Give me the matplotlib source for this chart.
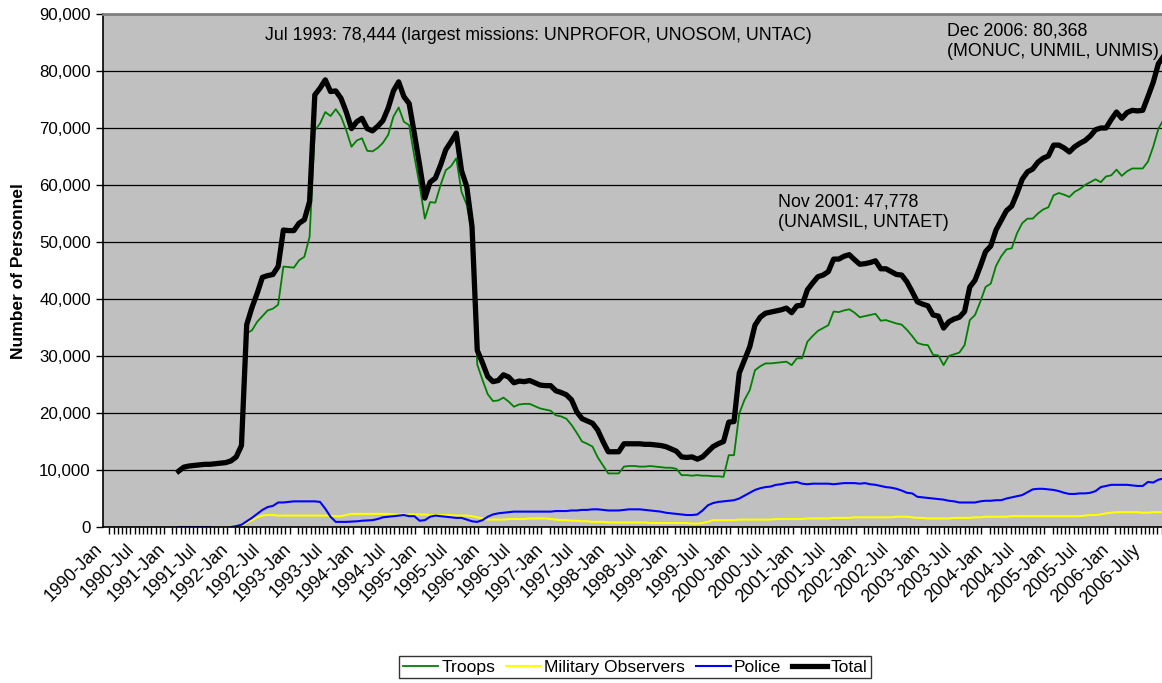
import numpy as np
import matplotlib
matplotlib.use("Agg")
import matplotlib.pyplot as plt
from matplotlib.ticker import FuncFormatter, MultipleLocator
from matplotlib.transforms import ScaledTranslation

plt.rcParams['font.family'] = ['Liberation Sans', 'DejaVu Sans']

# monthly series, 1990-Jan .. 2006-Dec; first value is 1991-Mar (index 14)
first_month = 14
nan = np.nan

total = [
    9800, 10500, 10700, 10800, 10900, 11000, 11000, 11100, 11200,
    11300, 11600, 12300, 14300, 35500, 38500, 41000, 43800, 44100, 44300,
    45700, 52100, 52000, 52000, 53300, 53900, 57100, 75800, 77000, 78444,
    76400, 76500, 75200, 72800, 69900, 71100, 71700, 69900, 69500, 70300,
    71300, 73500, 76500, 78100, 75500, 74300, 69000, 63500, 57700, 60500,
    61200, 63500, 66200, 67600, 69100, 62500, 59700, 52700, 31000, 28800,
    26400, 25500, 25700, 26700, 26300, 25300, 25600, 25500, 25700, 25300,
    24900, 24800, 24800, 23900, 23600, 23200, 22300, 20200, 19000, 18600,
    18200, 17000, 15000, 13200, 13200, 13200, 14600, 14600, 14600, 14600,
    14500, 14500, 14400, 14300, 14100, 13700, 13300, 12300, 12200, 12300,
    11900, 12300, 13200, 14100, 14600, 15000, 18400, 18500, 27000, 29300,
    31600, 35400, 36800, 37500, 37700, 37900, 38100, 38400, 37600, 38800,
    38900, 41600, 42800, 43900, 44200, 44800, 47000, 47000, 47500, 47778,
    46900, 46100, 46200, 46400, 46700, 45300, 45300, 44800, 44300, 44200,
    43000, 41300, 39500, 39100, 38800, 37200, 37000, 34900, 36000, 36500,
    36800, 37800, 42100, 43300, 45700, 48300, 49300, 52100, 53800, 55500,
    56300, 58500, 61000, 62300, 62800, 64000, 64700, 65100, 67000, 67000,
    66500, 65800, 66700, 67300, 67800, 68600, 69700, 70000, 70000, 71500,
    72800, 71700, 72700, 73100, 73000, 73100, 75500, 78000, 81300, 82600,
    83300,
]

troops = [
    9700, 10400, 10600, 10700, 10800, 10900, 10900, 11000, 11100,
    11200, 11500, 12000, 13600, 34000, 34500, 36000, 37000, 38000, 38300,
    39000, 45700, 45600, 45500, 46800, 47400, 50900, 69600, 70800, 72800,
    72100, 73300, 72000, 69600, 66700, 67800, 68200, 66000, 65900, 66500,
    67400, 68800, 72000, 73600, 71100, 70500, 65000, 60000, 54100, 57000,
    56900, 60000, 62600, 63300, 64700, 58800, 56500, 51500, 28500, 25800,
    23300, 22100, 22200, 22700, 22000, 21100, 21500, 21600, 21600, 21200,
    20800, 20600, 20400, 19600, 19400, 19000, 17900, 16500, 15000, 14600,
    14100, 12200, 10800, 9400, 9400, 9400, 10600, 10700, 10700, 10600,
    10600, 10700, 10600, 10500, 10400, 10400, 10200, 9100, 9100, 9000,
    9100, 9000, 9000, 8900, 8900, 8800, 12600, 12600, 19900, 22300,
    24000, 27500, 28200, 28700, 28700, 28800, 28900, 29000, 28400, 29600,
    29600, 32500, 33500, 34400, 34900, 35400, 37800, 37700, 38000, 38200,
    37600, 36800, 37000, 37200, 37400, 36200, 36300, 36000, 35700, 35500,
    34600, 33500, 32300, 32000, 31900, 30200, 30100, 28400, 30000, 30300,
    30600, 31900, 36300, 37200, 39500, 42100, 42700, 45800, 47500, 48700,
    48900, 51500, 53300, 54100, 54100, 55000, 55700, 56100, 58200, 58600,
    58300, 57900, 58800, 59300, 60000, 60500, 61000, 60500, 61500, 61700,
    62700, 61600, 62400, 62900, 62900, 62900, 64100, 66700, 69900, 71500,
    72000,
]

observers = [
    0, 0, 0, 0, 0, 0, 0, nan, nan, nan,
    0, 0, 300, 750, 1200, 1700, 2000, 2100, 2100, 2000,
    2000, 2000, 2000, 2000, 2000, 2000, 2000, 2000, 2000,
    2000, 1900, 1900, 2100, 2300, 2300, 2300, 2300, 2300, 2300,
    2300, 2300, 2200, 2200, 2200, 2200, 2200, 2200, 2200, 2100,
    2100, 2100, 2100, 2100, 2000, 2000, 2000, 1900, 1700, 1500,
    1300, 1300, 1300, 1300, 1400, 1400, 1400, 1400, 1500, 1500,
    1500, 1500, 1400, 1300, 1200, 1200, 1100, 1100, 1000, 1000,
    900, 900, 900, 800, 800, 800, 800, 800, 800, 800,
    800, 700, 700, 700, 700, 700, 700, 700, 700, 600,
    600, 700, 900, 1200, 1200, 1200, 1200, 1200, 1300, 1300,
    1300, 1300, 1300, 1300, 1300, 1400, 1400, 1400, 1400, 1400,
    1400, 1500, 1500, 1500, 1500, 1500, 1600, 1600, 1600, 1600,
    1700, 1700, 1700, 1700, 1700, 1700, 1700, 1700, 1800, 1800,
    1800, 1700, 1600, 1600, 1500, 1500, 1500, 1500, 1500, 1600,
    1600, 1600, 1600, 1700, 1700, 1800, 1800, 1800, 1800, 1800,
    1900, 1900, 1900, 1900, 1900, 1900, 1900, 1900, 1900, 1900,
    1900, 1900, 1900, 1900, 2000, 2100, 2100, 2200, 2400, 2500,
    2600, 2600, 2600, 2600, 2600, 2500, 2500, 2600, 2600, 2600,
    2600,
]

police = [
    0, 0, 0, 0, 0, 0, 0, nan, nan, nan,
    0, 150, 400, 1000, 1600, 2300, 3000, 3500, 3700, 4300,
    4300, 4400, 4500, 4500, 4500, 4500, 4500, 4400, 3200,
    1800, 900, 900, 900, 950, 1000, 1100, 1150, 1200, 1400,
    1700, 1800, 1900, 2000, 2100, 1900, 1900, 1100, 1200, 1800,
    2000, 1900, 1800, 1700, 1600, 1600, 1300, 1000, 900, 1200,
    1800, 2200, 2400, 2500, 2600, 2700, 2700, 2700, 2700, 2700,
    2700, 2700, 2700, 2800, 2800, 2800, 2900, 2900, 3000, 3000,
    3100, 3100, 3000, 2900, 2900, 2900, 3000, 3100, 3100, 3100,
    3000, 2900, 2800, 2700, 2500, 2400, 2300, 2200, 2100, 2100,
    2200, 2900, 3800, 4200, 4400, 4500, 4600, 4700, 5000, 5500,
    6000, 6500, 6800, 7000, 7100, 7400, 7500, 7700, 7800, 7900,
    7600, 7500, 7600, 7600, 7600, 7600, 7500, 7600, 7700, 7700,
    7700, 7600, 7700, 7500, 7400, 7200, 7000, 6900, 6700, 6400,
    6000, 5900, 5300, 5200, 5100, 5000, 4900, 4800, 4600, 4500,
    4300, 4300, 4300, 4300, 4500, 4600, 4600, 4700, 4700, 5000,
    5200, 5400, 5600, 6100, 6600, 6700, 6700, 6600, 6500, 6300,
    6000, 5800, 5800, 5900, 5900, 6000, 6300, 7000, 7200, 7400,
    7400, 7400, 7400, 7300, 7200, 7200, 7900, 7800, 8300, 8500,
    8500,
]

years = list(range(1990, 2007))
tick_labels = []
for y in years:
    tick_labels.append(f'{y}-Jan')
    tick_labels.append('2006-July' if y == 2006 else f'{y}-Jul')

n_months = 12 * len(years)
x = np.arange(first_month, n_months)

fig = plt.figure(figsize=(11.62, 6.83), dpi=100)
ax = fig.add_axes([0.0883, 0.2284, 0.9199, 0.7511])
ax.set_facecolor('#c0c0c0')

ax.plot(x, troops, color='#008000', lw=1.3, label='Troops')
ax.plot(x, observers, color='#ffff00', lw=1.5, label='Military Observers')
ax.plot(x, police, color='#0000ff', lw=1.5, label='Police')
ax.plot(x, total, color='black', lw=3.8, label='Total', solid_joinstyle='round')

ax.set_xlim(-0.5, n_months - 0.5)
ax.set_ylim(0, 90000)
ax.set_yticks(np.arange(0, 90001, 10000))
ax.yaxis.set_major_formatter(FuncFormatter(lambda v, p: f'{int(v):,}'))
ax.grid(axis='y', color='black', lw=0.9)
ax.set_axisbelow(True)

ax.set_xticks(np.arange(0, n_months, 6))
ax.set_xticklabels(tick_labels, rotation=45, ha='right', va='top',
                   rotation_mode='anchor')
ax.xaxis.set_minor_locator(MultipleLocator(0.8))
ax.tick_params(axis='x', which='major', length=0, labelsize=12.8, pad=10)
ax.tick_params(axis='x', which='minor', length=5, width=1, direction='out')
ax.tick_params(axis='y', length=5, width=1, labelsize=12.2)

shift = ScaledTranslation(-11 / 100, 0, fig.dpi_scale_trans)
for lbl in ax.get_xticklabels():
    lbl.set_transform(lbl.get_transform() + shift)

for side in ['top', 'right']:
    ax.spines[side].set_color('#808080')
    ax.spines[side].set_linewidth(2)
ax.spines['left'].set_linewidth(1.2)
ax.spines['bottom'].set_linewidth(1.2)

ax.set_ylabel('Number of Personnel', fontsize=12.5, fontweight='bold')
ax.yaxis.set_label_coords(-0.0716, 0.498)

ax.text(30.5, 86300, 'Jul 1993: 78,444 (largest missions: UNPROFOR, UNOSOM, UNTAC)',
        ha='left', va='center', fontsize=12.8)
ax.text(128.4, 55200, 'Nov 2001: 47,778\n(UNAMSIL, UNTAET)',
        ha='left', va='center', fontsize=12.8, linespacing=1.25)
ax.text(160.7, 85250, 'Dec 2006: 80,368\n(MONUC, UNMIL, UNMIS)',
        ha='left', va='center', fontsize=12.8, linespacing=1.25)

leg = fig.legend(loc='center', bbox_to_anchor=(635 / 1162, 1 - 667 / 683),
                 ncol=4, fontsize=12.6, frameon=True, fancybox=False,
                 handlelength=2.0, handletextpad=0.2, columnspacing=0.6,
                 borderpad=0.2, borderaxespad=0)
leg.get_frame().set_edgecolor('black')
leg.get_frame().set_linewidth(1)

fig.savefig('out.png', dpi=100)
